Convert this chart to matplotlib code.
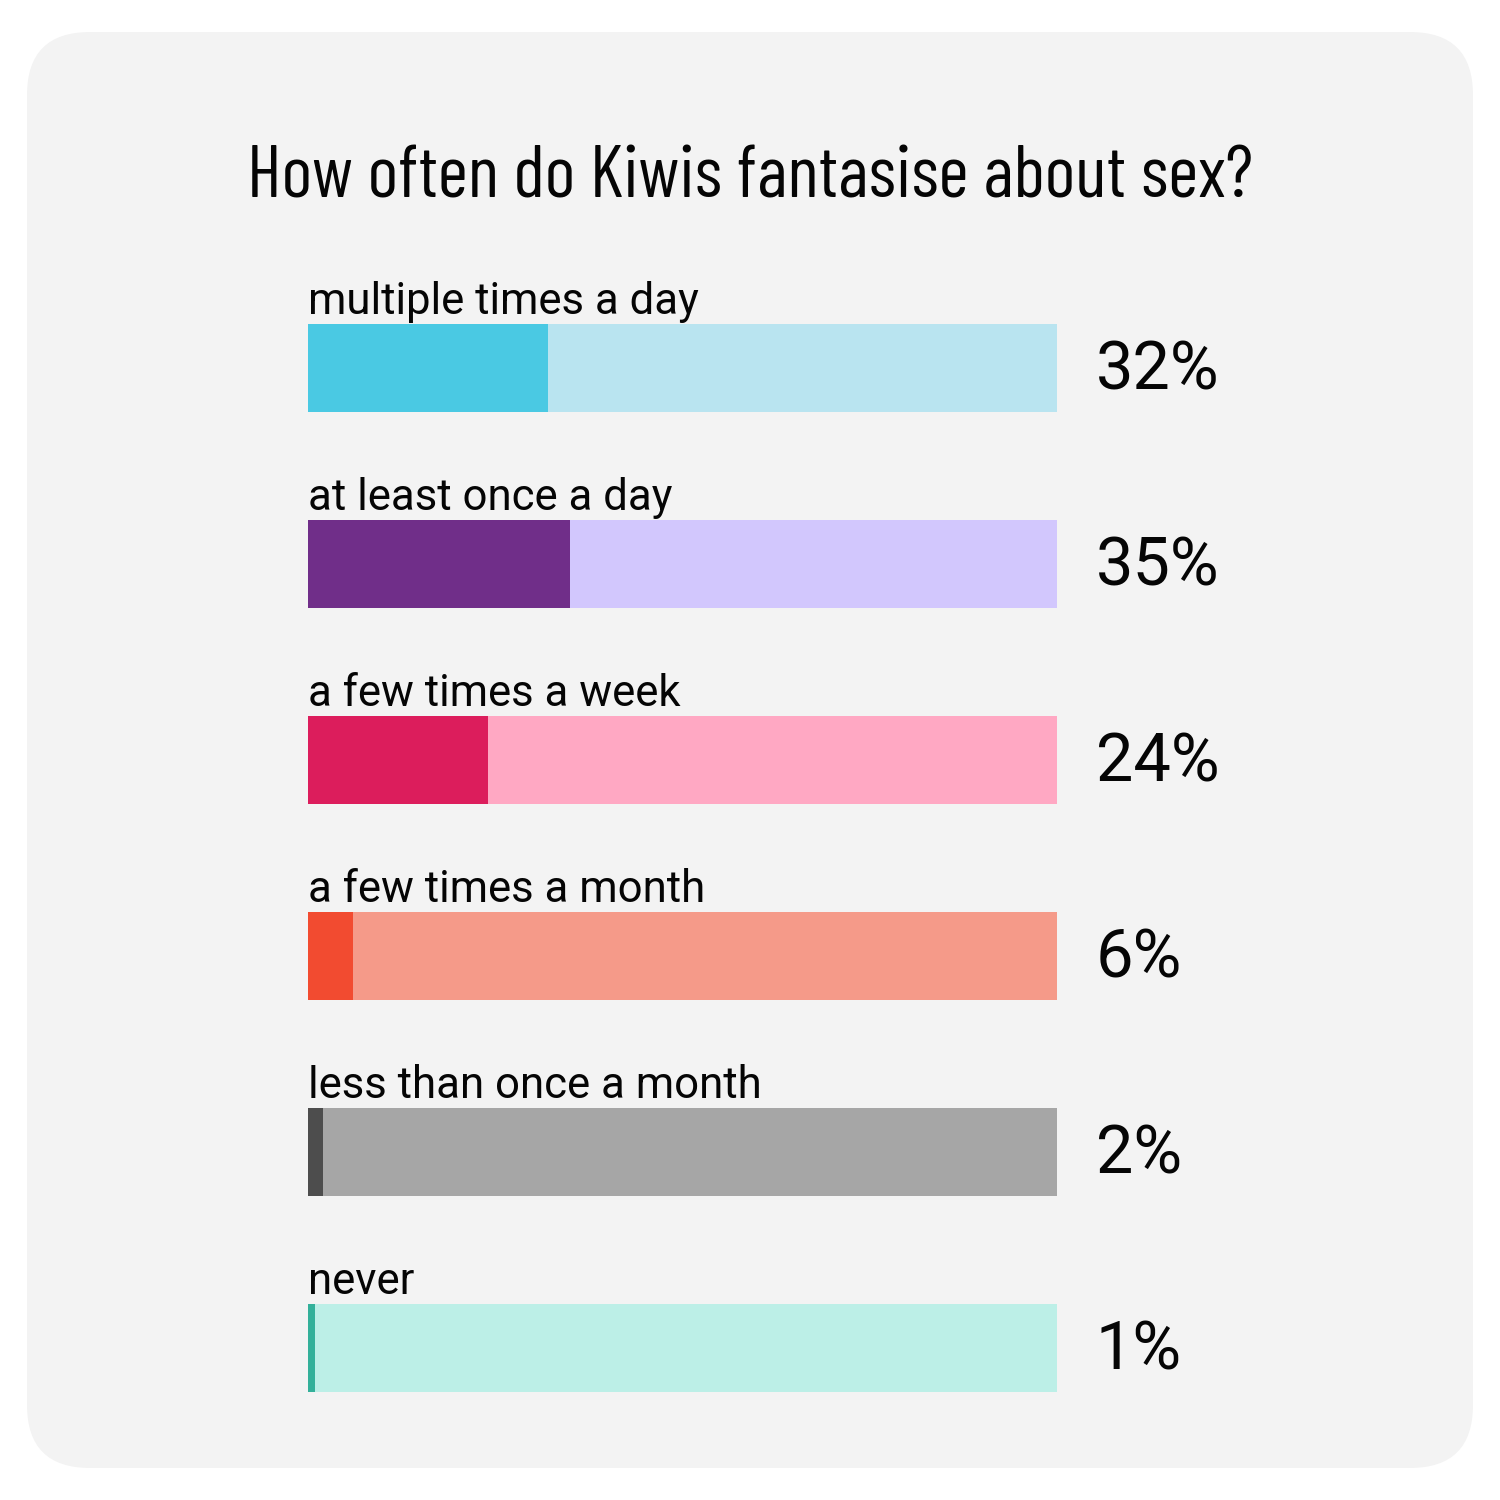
import matplotlib
matplotlib.use("Agg")
import matplotlib.pyplot as plt
from matplotlib.patches import FancyBboxPatch

# 数据
categories = ["multiple times a day", "at least once a day", "a few times a week",
              "a few times a month", "less than once a month", "never"]
values = [32, 35, 24, 6, 2, 1]
value_labels = ["32%", "35%", "24%", "6%", "2%", "1%"]
dark_colors = ["#4ac9e3", "#702e89", "#dc1d5c", "#f24b30", "#4d4d4d", "#33b09a"]
light_colors = ["#b9e4f0", "#d2c7fd", "#ffa8c3", "#f59a89", "#a6a6a6", "#bcefe7"]
title = "How often do Kiwis fantasise about sex?"

TITLE_FONT = ["Barlow Condensed", "Roboto Condensed", "DejaVu Sans"]
BODY_FONT = ["Roboto", "DejaVu Sans"]
INK = "#050505"

fig = plt.figure(figsize=(15, 15), dpi=100)
fig.patch.set_facecolor("white")

# 圆角卡片背景
card = FancyBboxPatch((27 / 1500, 32 / 1500), 1446 / 1500, 1436 / 1500,
                      boxstyle="round,pad=0,rounding_size=0.042",
                      transform=fig.transFigure, facecolor="#f3f3f3",
                      edgecolor="none", zorder=-10)
fig.patches.append(card)

fig.text(0.5, 1 - 197 / 1500, title, ha="center", va="baseline",
         fontsize=53, family=TITLE_FONT, color=INK)

ax = fig.add_axes([308 / 1500, 54 / 1500, 749 / 1500, 1176 / 1500], zorder=1)
ax.set_facecolor("none")
ax.set_xlim(0, 100)
ax.set_ylim(len(categories) - 0.5, -0.5)
ax.axis("off")

h = 88 / 196
ys = list(range(len(categories)))
ax.barh(ys, [100] * len(ys), height=h, color=light_colors, linewidth=0)
ax.barh(ys, values, height=h, color=dark_colors, linewidth=0)

for y, cat, lab in zip(ys, categories, value_labels):
    ax.annotate(cat, xy=(0, y - h / 2), xytext=(0, 7), textcoords="offset points",
                ha="left", va="baseline", fontsize=31.5, family=BODY_FONT, color=INK,
                annotation_clip=False)
    ax.annotate(lab, xy=(100, y), xytext=(28, -2.5), textcoords="offset points",
                ha="left", va="center", fontsize=48, family=BODY_FONT, color=INK,
                annotation_clip=False)

fig.savefig("out.png", dpi=100, facecolor=fig.get_facecolor())
